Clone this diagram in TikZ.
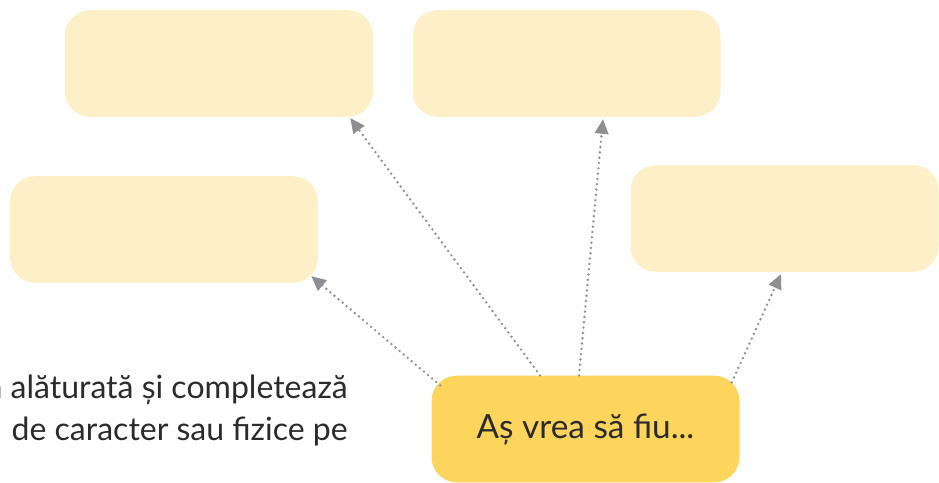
\documentclass[tikz,border=0pt]{standalone}
\usepackage{fontspec}
\setmainfont{Lato}
\usetikzlibrary{arrows.meta,calc}
\definecolor{boxpale}{HTML}{FDF0C9}
\definecolor{boxgold}{HTML}{FDD45C}
\definecolor{arrowgray}{HTML}{8E8E93}
\definecolor{inkgray}{HTML}{2B2B2B}
\tikzset{
	card/.style={fill=boxpale, rounded corners=19pt, minimum width=231pt, minimum height=80pt, inner sep=0pt},
	goal/.style={card, fill=boxgold, text=inkgray, font=\fontsize{25}{30}\selectfont},
	hint/.style={text=inkgray, font=\fontsize{24}{29}\selectfont, inner sep=0pt, anchor=base east},
	link/.style={arrowgray, line width=2pt, line cap=round, dash pattern=on 0pt off 4pt, -{Triangle[length=11pt,width=10pt]}}
}

\begin{document}
\begin{tikzpicture}[x=0.75pt,y=-0.75pt]
				\useasboundingbox (0,0) rectangle (939,482);
				\node[card](tl) at (219,63.5) {};
				\node[card](tm) at (566.5,63.5) {};
				\node[card](lf) at (164,229.5) {};
				\node[card](rt) at (784.5,218.5) {};
				\node[goal](src) at (585.5,429) {Aș vrea să fiu...};
				\node[hint](l1) at (348,398) {a alăturată și completează};
				\node[hint](l2) at (348,440) {de caracter sau fizice pe};
				\draw[link] ($(src.north west)+(9,10)$) -- ($(lf.south east)+(-7,-7)$);
				\draw[link] ($(src.north)+(-45.5,0)$) -- ($(tl.south east)+(-23,1)$);
				\draw[link] ($(src.north)+(-6.5,0)$) -- ($(tm.south)+(36.5,2)$);
				\draw[link] ($(src.north east)+(-8,7)$) -- ($(rt.south)+(-3.5,2)$);
			\end{tikzpicture}
\end{document}
